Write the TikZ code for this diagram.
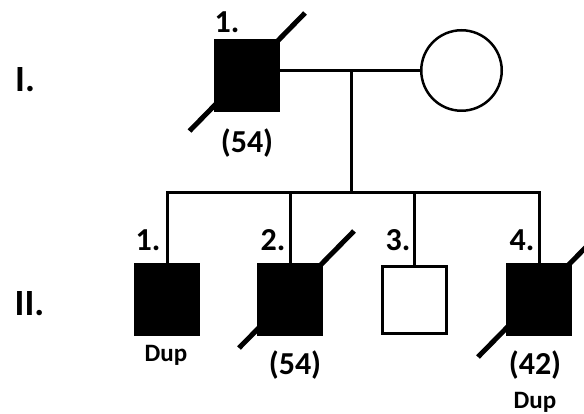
\documentclass[tikz,border=0pt]{standalone}
\usepackage{fontspec}
\setmainfont{Carlito}
\begin{document}
\begin{tikzpicture}[x=1pt,y=-1pt,
  affm/.style={rectangle,draw,fill=black,line width=2pt,minimum width=64pt,minimum height=71pt,inner sep=0pt},
  unm/.style={rectangle,draw,fill=white,line width=3pt,minimum width=64pt,minimum height=67pt,inner sep=0pt},
  unf/.style={circle,draw,fill=white,line width=2.5pt,minimum size=80.5pt,inner sep=0pt},
  rel/.style={line width=3pt},
  dec/.style={line width=5pt},
  num/.style={inner sep=0pt,font=\fontsize{32}{38}\selectfont\bfseries},
  gen/.style={inner sep=0pt,font=\fontsize{37}{44}\selectfont\bfseries},
  note/.style={inner sep=0pt,font=\fontsize{25}{30}\selectfont\bfseries}]
\useasboundingbox (0,0) rectangle (584,414);
\clip (0,0) rectangle (584,414);
% generation labels
\node[gen] (gI) at (25,79.5) {I.};
\node[gen] (gII) at (29.5,303.5) {II.};
% generation I
\node[affm] (f) at (246.5,76) {};
\node[unf] (m) at (461.5,70.5) {};
\draw[rel] (m.west) -- (m.west -| f.east);
\coordinate (sib) at (351,193);
\draw[rel] (sib) -- (sib |- m.west);
\draw[dec] ([shift={(-57,55)}]f.center) -- ([shift={(58.5,-63)}]f.center);
\node[num] (fl) at (227,22) {1.};
\node[num] (fa) at (247,143) {(54)};
% generation II
\node[affm] (c1) at (167,299.5) {};
\node[affm] (c2) at (290,299.5) {};
\node[unm] (c3) at (414.5,300) {};
\node[affm] (c4) at (539,299.5) {};
\draw[rel] (c1.north) -- (c1.north |- sib) -- (c4.north |- sib) -- (c4.north);
\draw[rel] (c2.north) -- (c2.north |- sib);
\draw[rel] (c3.north) -- (c3.north |- sib);
\draw[dec] ([shift={(-51,48.5)}]c2.center) -- ([shift={(64,-68.5)}]c2.center);
\draw[dec] ([shift={(-61,57.5)}]c4.center) -- ([shift={(54,-59.5)}]c4.center);
\node[num] (l1) at (148,240) {1.};
\node[num] (l2) at (273,240) {2.};
\node[num] (l3) at (398,240) {3.};
\node[num] (l4) at (522,240) {4.};
\node[note] (d1) at (166,355) {Dup};
\node[num] (a2) at (295,365) {(54)};
\node[num] (a4) at (535,365) {(42)};
\node[note] (d4) at (535,402) {Dup};
\end{tikzpicture}
\end{document}
